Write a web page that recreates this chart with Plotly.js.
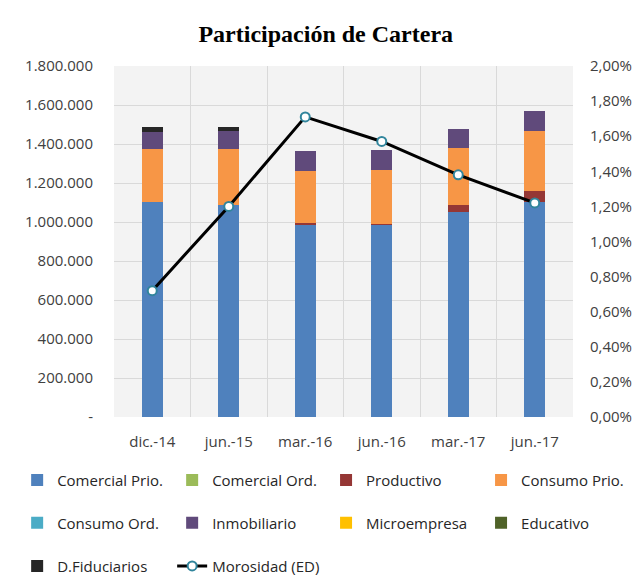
<!DOCTYPE html>
<html>
<head>
<meta charset="utf-8">
<script src="https://cdn.plot.ly/plotly-3.0.1.min.js"></script>
<style>
  body { margin: 0; background: #fff; }
  #wrap { position: relative; width: 635px; height: 581px; }
  #chart { position: absolute; left: 0; top: 0; width: 635px; height: 581px; }
  #frame { position: absolute; left: 8px; top: 7px; width: 623px; height: 590px;
           border: 1px solid #d9d9d9; border-radius: 12px; pointer-events: none; }
</style>
</head>
<body>
<div id="wrap">
  <div id="frame"></div>
  <div id="chart"></div>
</div>
<script>
const periods = ["dic.-14", "jun.-15", "mar.-16", "jun.-16", "mar.-17", "jun.-17"];

const comercialPrio = [1103000, 1088000, 985000, 985000, 1052000, 1103000];
const comercialOrd  = [0, 0, 0, 0, 0, 0];
const productivo    = [0, 0, 10000, 6000, 36000, 57000];
const consumoPrio   = [273000, 288000, 268000, 277000, 293000, 309000];
const consumoOrd    = [0, 0, 0, 0, 0, 0];
const inmobiliario  = [88000, 93000, 103000, 103000, 98000, 98000];
const microempresa  = [0, 0, 0, 0, 0, 0];
const educativo     = [0, 0, 0, 0, 0, 0];
const dFiduciarios  = [22000, 20000, 0, 0, 0, 0];

const morosidad = [0.0072, 0.0120, 0.0171, 0.0157, 0.0138, 0.0122];

const leftTicks = [0, 200000, 400000, 600000, 800000, 1000000, 1200000, 1400000, 1600000, 1800000];

const fmtThousands = v => v === 0 ? "-" : v.toString().replace(/\B(?=(\d{3})+(?!\d))/g, ".");

const font = "Open Sans, sans-serif";

function barTrace(name, y, color, legend) {
  return {
    type: "bar",
    name: name,
    x: periods,
    y: y,
    marker: { color: color },
    legend: legend,
    hoverinfo: "name+y",
  };
}

// legend rows are split in two halves so each fits the allowed legend width
const traces = [
  barTrace("Comercial Prio.", comercialPrio, "#4f81bd", "legend"),
  barTrace("Comercial Ord.", comercialOrd, "#9bbb59", "legend"),
  barTrace("Productivo", productivo, "#953735", "legend2"),
  barTrace("Consumo Prio.", consumoPrio, "#f79646", "legend2"),
  barTrace("Consumo Ord.", consumoOrd, "#4bacc6", "legend3"),
  barTrace("Inmobiliario", inmobiliario, "#604a7b", "legend3"),
  barTrace("Microempresa", microempresa, "#ffc000", "legend4"),
  barTrace("Educativo", educativo, "#4f6228", "legend4"),
  barTrace("D.Fiduciarios", dFiduciarios, "#262626", "legend5"),
  {
    type: "scatter",
    mode: "lines+markers",
    name: "Morosidad (ED)",
    x: periods,
    y: morosidad,
    yaxis: "y2",
    legend: "legend5",
    line: { color: "#000000", width: 3 },
    marker: { size: 9, color: "#ffffff", line: { color: "#31859c", width: 2 } },
  },
];

const leg = (x, y) => ({
  orientation: "h",
  xanchor: "left",
  yanchor: "middle",
  x: x,
  y: y,
  entrywidth: 110,
  entrywidthmode: "pixels",
  font: { family: font, size: 15, color: "#262626" },
  bgcolor: "rgba(0,0,0,0)",
  traceorder: "normal",
});

const colL = -0.211, colR = 0.462;
const row1 = -0.18, row2 = -0.302, row3 = -0.425;

const layout = {
  width: 635,
  height: 581,
  barmode: "stack",
  bargap: 0.72,
  separators: ",.",
  paper_bgcolor: "#ffffff",
  plot_bgcolor: "#f3f3f3",
  margin: { t: 66, r: 62, b: 164, l: 114, autoexpand: false },
  title: {
    text: "Participación de Cartera",
    font: { family: "Liberation Serif, serif", size: 24, color: "#000000", weight: "bold" },
    x: 0.513,
    xref: "container",
    xanchor: "center",
    y: 0.942,
    yref: "container",
    yanchor: "middle",
  },
  xaxis: {
    type: "category",
    tickson: "boundaries",
    showgrid: true,
    gridcolor: "#d9d9d9",
    ticklen: 0,
    ticklabelstandoff: 14,
    tickfont: { family: font, size: 15, color: "#404040" },
    showline: false,
    zeroline: false,
  },
  yaxis: {
    range: [0, 1800000],
    tickvals: leftTicks,
    ticktext: leftTicks.map(fmtThousands),
    showgrid: true,
    gridcolor: "#d9d9d9",
    zeroline: false,
    ticklen: 0,
    ticklabelstandoff: 20,
    tickfont: { family: font, size: 15, color: "#404040" },
  },
  yaxis2: {
    overlaying: "y",
    side: "right",
    range: [0, 0.02],
    dtick: 0.002,
    tickformat: ".2%",
    showgrid: false,
    zeroline: false,
    ticklen: 0,
    ticklabelstandoff: 16,
    tickfont: { family: font, size: 15, color: "#404040" },
  },
  showlegend: true,
  legend: leg(colL, row1),
  legend2: leg(colR, row1),
  legend3: leg(colL, row2),
  legend4: leg(colR, row2),
  legend5: leg(colL, row3),
};

Plotly.newPlot("chart", traces, layout, { displayModeBar: false, responsive: false });
</script>
</body>
</html>
